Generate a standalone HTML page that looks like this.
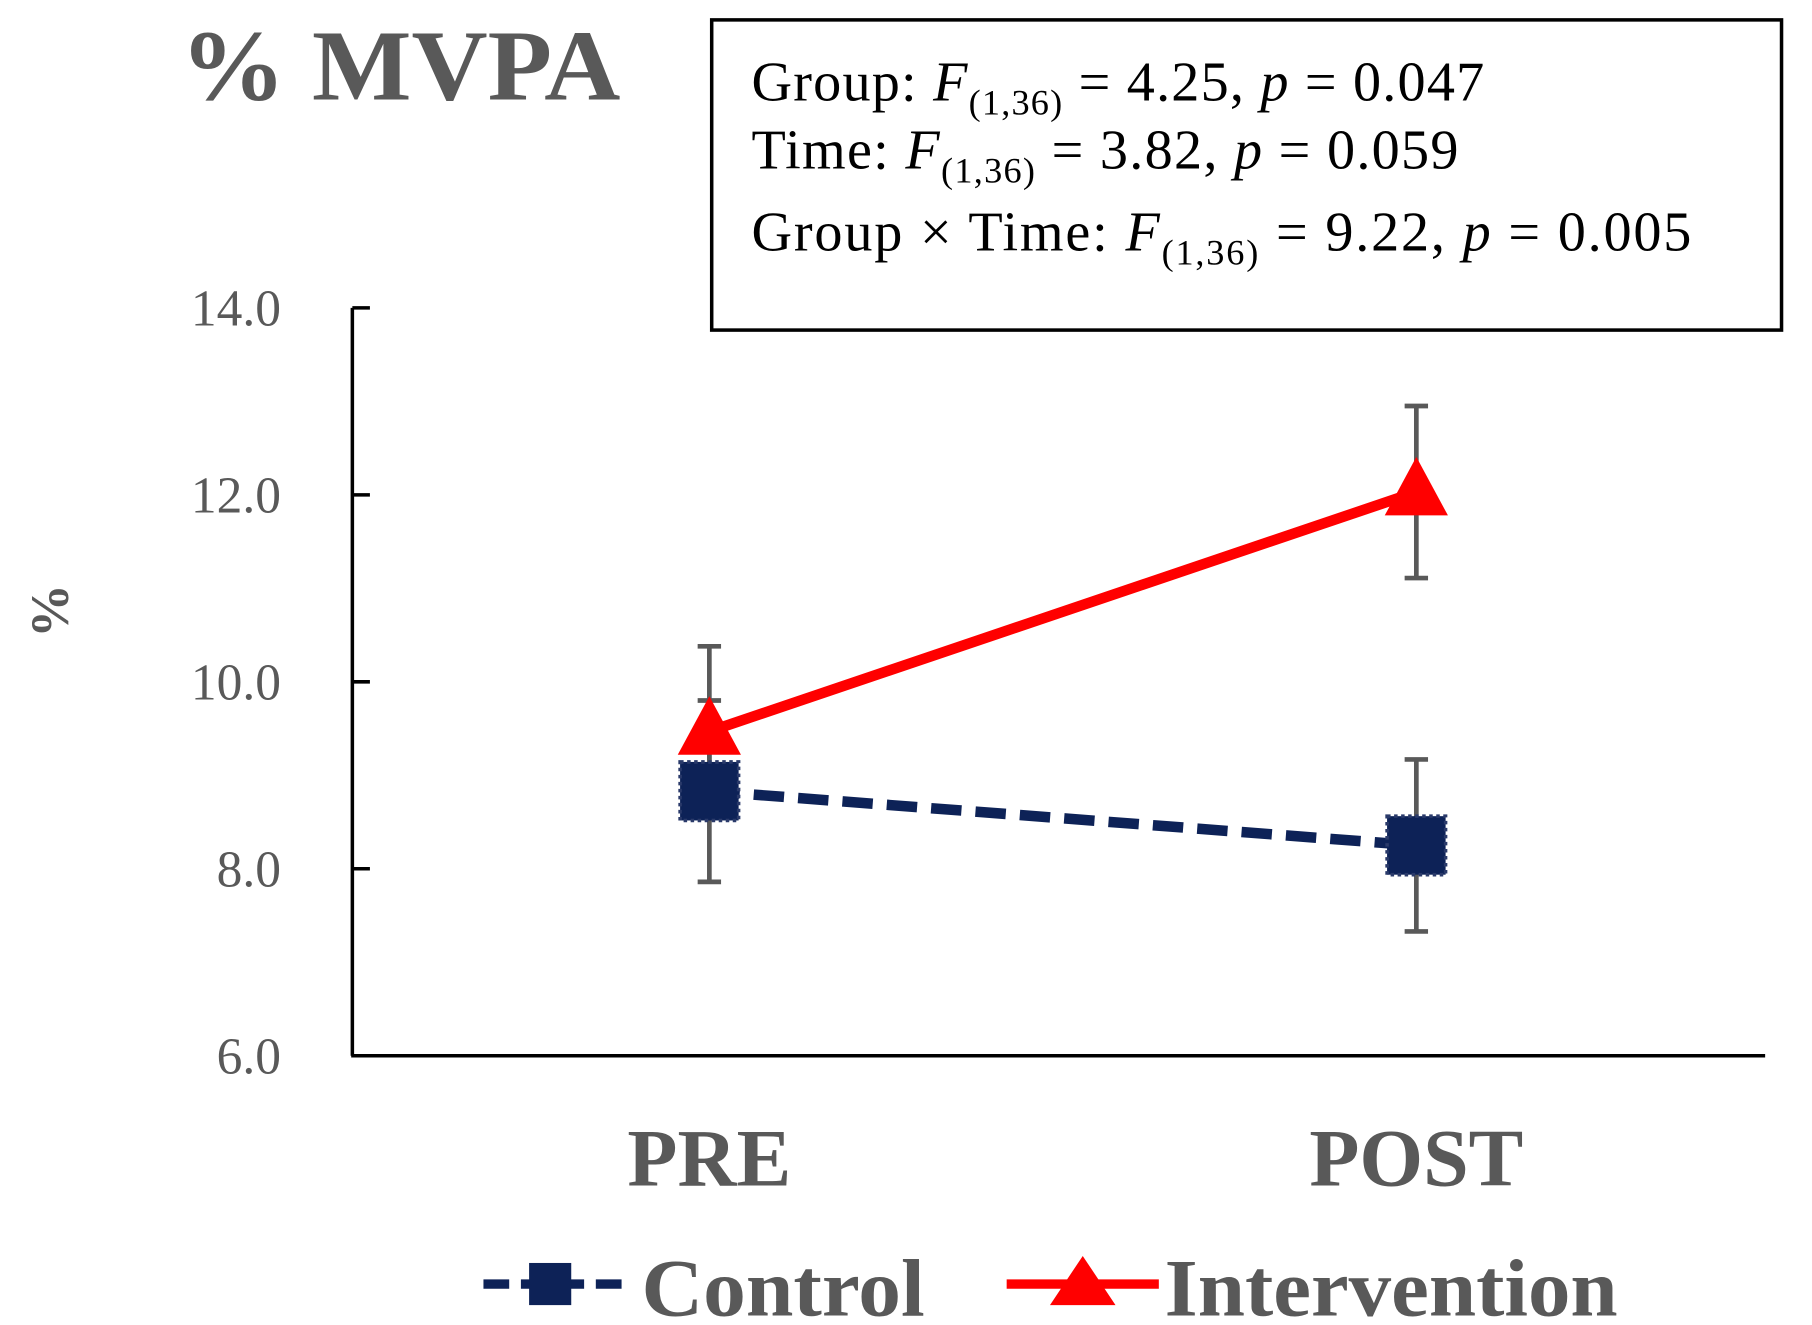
<!DOCTYPE html>
<html><head><meta charset="utf-8"><style>
html,body{margin:0;padding:0;background:#fff}
svg{display:block}
text{font-family:"Liberation Serif",serif}
</style></head><body>
<svg id="chart" width="1812" height="1325" viewBox="0 0 1548 1132" xmlns="http://www.w3.org/2000/svg">
<text x="154" y="85" font-size="86" font-weight="bold" fill="#595959" textLength="376" lengthAdjust="spacingAndGlyphs">% MVPA</text>
<g>
<rect x="608" y="17" width="914" height="265" fill="#fff" stroke="#000" stroke-width="3"/>
<text x="642" y="86" font-size="48" textLength="626" lengthAdjust="spacing">Group: <tspan font-style="italic">F</tspan><tspan font-size="31" dy="12">(1,36)</tspan><tspan dy="-12"> = 4.25, </tspan><tspan font-style="italic">p</tspan> = 0.047</text>
<text x="642" y="144" font-size="48" textLength="604" lengthAdjust="spacing">Time: <tspan font-style="italic">F</tspan><tspan font-size="31" dy="12">(1,36)</tspan><tspan dy="-12"> = 3.82, </tspan><tspan font-style="italic">p</tspan> = 0.059</text>
<text x="642" y="214" font-size="48" textLength="803" lengthAdjust="spacing">Group × Time: <tspan font-style="italic">F</tspan><tspan font-size="31" dy="12">(1,36)</tspan><tspan dy="-12"> = 9.22, </tspan><tspan font-style="italic">p</tspan> = 0.005</text>
</g>
<text transform="translate(58,522) rotate(-90)" text-anchor="middle" font-size="46" font-weight="bold" fill="#595959">%</text>
<g id="axes"></g>
<g id="series"></g>
<g>
<g>
<line x1="413" y1="1097" x2="540" y2="1097" stroke="#0d2257" stroke-width="8" stroke-dasharray="22,10"/>
<rect x="452" y="1079" width="36" height="36" fill="#0d2257"/>
<text x="548" y="1124" font-size="70" font-weight="bold" fill="#595959" textLength="242" lengthAdjust="spacingAndGlyphs">Control</text>
</g>
<g>
<line x1="860" y1="1097" x2="990" y2="1097" stroke="#ff0000" stroke-width="8"/>
<polygon points="925,1073 953,1115 897,1115" fill="#ff0000"/>
<text x="995" y="1124" font-size="70" font-weight="bold" fill="#595959" textLength="387" lengthAdjust="spacingAndGlyphs">Intervention</text>
</g>
</g>
</svg>
<script>
const categories = ["PRE", "POST"];
const controlValues = [8.83, 8.25];
const controlErrors = [0.97, 0.92];
const interventionValues = [9.47, 12.03];
const interventionErrors = [0.91, 0.92];
const yTicks = [6.0, 8.0, 10.0, 12.0, 14.0];

const NS = "http://www.w3.org/2000/svg";
const x0 = 301, x1 = 1508, yTop = 263, yBot = 902, yMin = 6, yMax = 14;
const xPos = [606, 1210];
function xs(i){ return xPos[i]; }
function ys(v){ return yBot - (v - yMin) / (yMax - yMin) * (yBot - yTop); }
function mk(tag, attrs, parent){ const e = document.createElementNS(NS, tag); for (const k in attrs) e.setAttribute(k, attrs[k]); parent.appendChild(e); return e; }

const axes = document.getElementById("axes");
const ya = mk("line", {x1:x0, y1:yTop, x2:x0, y2:yBot, stroke:"#000", "stroke-width":3}, axes);


const xa = mk("line", {x1:x0-1, y1:yBot, x2:x1, y2:yBot, stroke:"#000", "stroke-width":3}, axes);


yTicks.forEach(t => {
  mk("line", {x1:x0, y1:ys(t), x2:x0+15, y2:ys(t), stroke:"#000", "stroke-width":3}, axes);
  const tl = mk("text", {x:240, y:ys(t)+15, "text-anchor":"end", "font-size":44, fill:"#595959"}, axes);
  tl.textContent = t.toFixed(1);
  
  
});
categories.forEach((c, i) => {
  const xl = mk("text", {x:xs(i), y:1013, "text-anchor":"middle", "font-size":70, "font-weight":"bold", fill:"#595959"}, axes);
  xl.textContent = c;
  
  
});

const s = document.getElementById("series");
function errBars(vals, errs){
  vals.forEach((v, i) => {
    const g = mk("g", {stroke:"#595959", "stroke-width":4}, s);
    
    
    mk("line", {x1:xs(i), y1:ys(v-errs[i]), x2:xs(i), y2:ys(v+errs[i])}, g);
    mk("line", {x1:xs(i)-10, y1:ys(v-errs[i]), x2:xs(i)+10, y2:ys(v-errs[i])}, g);
    mk("line", {x1:xs(i)-10, y1:ys(v+errs[i]), x2:xs(i)+10, y2:ys(v+errs[i])}, g);
  });
}
errBars(controlValues, controlErrors);
errBars(interventionValues, interventionErrors);

const cl = mk("polyline", {points: controlValues.map((v,i)=>xs(i)+","+ys(v)).join(" "), fill:"none", stroke:"#0d2257", "stroke-width":9, "stroke-dasharray":"26,12"}, s);


controlValues.forEach((v, i) => {
  const r = mk("rect", {x:xs(i)-25, y:ys(v)-25, width:50, height:50, fill:"#0d2257", stroke:"#2a3a6a", "stroke-width":3, "stroke-dasharray":"3,3"}, s);
  
  
});

const il = mk("polyline", {points: interventionValues.map((v,i)=>xs(i)+","+ys(v)).join(" "), fill:"none", stroke:"#ff0000", "stroke-width":9}, s);


interventionValues.forEach((v, i) => {
  const x = xs(i), y = ys(v);
  const p = mk("polygon", {points:`${x},${y-30} ${x+27},${y+20} ${x-27},${y+20}`, fill:"#ff0000"}, s);
  
  
});
</script>
</body></html>
